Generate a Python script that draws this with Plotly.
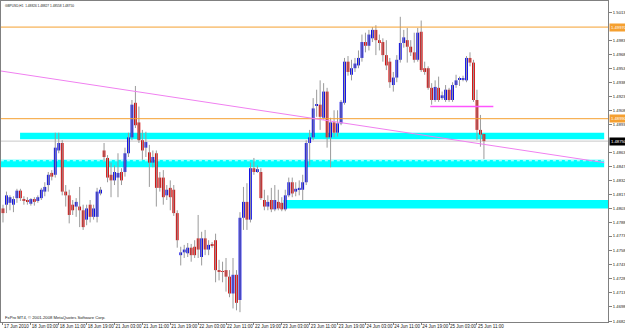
import plotly.graph_objects as go

# ---- data: GBPUSD H1 bars (17 Jun 2010 19:00 .. 25 Jun 2010 13:00) ----
opens = [
    1.4803, 1.4807, 1.4809, 1.4807, 1.4814, 1.4822, 1.4813, 1.4812, 1.4808, 1.4813,
    1.4811, 1.4814, 1.4821, 1.4828, 1.4841, 1.4839, 1.4865, 1.4873, 1.4821, 1.4817,
    1.4807, 1.4805, 1.4805, 1.4801, 1.4791, 1.4807, 1.4794, 1.4794, 1.4819, 1.4865,
    1.4857, 1.4839, 1.4833, 1.4836, 1.4842, 1.4842, 1.4862, 1.4879, 1.4916, 1.4895,
    1.4876, 1.4868, 1.4863, 1.4852, 1.4862, 1.4836, 1.4836, 1.4817, 1.4825, 1.4823,
    1.4798, 1.4753, 1.4756, 1.4755, 1.4761, 1.4762, 1.4771, 1.4751, 1.4771, 1.4759,
    1.4764, 1.4769, 1.4737, 1.4736, 1.4737, 1.4730, 1.4712, 1.4732, 1.4705, 1.4793,
    1.4810, 1.4791, 1.4846, 1.4843, 1.4842, 1.4812, 1.4805, 1.4812, 1.4802, 1.4810,
    1.4809, 1.4802, 1.4817, 1.4831, 1.4821, 1.4823, 1.4823, 1.4831, 1.4873, 1.4879,
    1.4913, 1.4914, 1.4900, 1.4928, 1.4879, 1.4895, 1.4884, 1.4894, 1.4916, 1.4960,
    1.4946, 1.4953, 1.4956, 1.4964, 1.4981, 1.4977, 1.4985, 1.4994, 1.4983, 1.4981,
    1.4967, 1.4960, 1.4935, 1.4943, 1.4962, 1.4980, 1.4983, 1.4976, 1.4970, 1.4962,
    1.4992, 1.4953, 1.4953, 1.4932, 1.4919, 1.4932, 1.4921, 1.4919, 1.4930, 1.4919,
    1.4935, 1.4941, 1.4941, 1.4940, 1.4964, 1.4959, 1.4919, 1.4887, 1.48826]
highs = [
    1.4807, 1.4821, 1.4817, 1.4816, 1.4824, 1.4824, 1.4816, 1.4815, 1.4814, 1.4815,
    1.4817, 1.4825, 1.4831, 1.4842, 1.4844, 1.4884, 1.4884, 1.4876, 1.4828, 1.4823,
    1.4812, 1.4814, 1.4826, 1.4807, 1.4807, 1.4812, 1.4807, 1.4825, 1.4826, 1.4873,
    1.4860, 1.4852, 1.4849, 1.4862, 1.4846, 1.4868, 1.4884, 1.4919, 1.4934, 1.4912,
    1.4887, 1.4885, 1.4871, 1.4865, 1.4865, 1.4842, 1.4844, 1.4828, 1.4833, 1.4828,
    1.4801, 1.4762, 1.4764, 1.4766, 1.4765, 1.4769, 1.4796, 1.4778, 1.4780, 1.4769,
    1.4767, 1.4776, 1.4748, 1.4746, 1.4750, 1.4737, 1.4750, 1.4737, 1.4799, 1.4826,
    1.4830, 1.4852, 1.4857, 1.4849, 1.4846, 1.4823, 1.4817, 1.4825, 1.4828, 1.4823,
    1.4815, 1.4823, 1.4836, 1.4836, 1.4831, 1.4833, 1.4839, 1.4876, 1.4887, 1.4921,
    1.4930, 1.4940, 1.4937, 1.4932, 1.4900, 1.4908, 1.4908, 1.4919, 1.4964, 1.4966,
    1.4962, 1.4964, 1.4972, 1.4989, 1.4991, 1.4994, 1.4997, 1.4999, 1.4989, 1.4985,
    1.4983, 1.4964, 1.4949, 1.4967, 1.5008, 1.4994, 1.4996, 1.4983, 1.4991, 1.4996,
    1.5004, 1.4960, 1.4955, 1.4937, 1.4940, 1.4944, 1.4928, 1.4935, 1.4932, 1.4938,
    1.4946, 1.4944, 1.4945, 1.4966, 1.4970, 1.4962, 1.4930, 1.4903, 1.48827]
lows = [
    1.4788, 1.4798, 1.4801, 1.4799, 1.4809, 1.4811, 1.4807, 1.4807, 1.4806, 1.4806,
    1.4809, 1.4812, 1.4816, 1.4821, 1.4833, 1.4836, 1.4862, 1.4817, 1.4805, 1.4787,
    1.4796, 1.4794, 1.4783, 1.4780, 1.4785, 1.4788, 1.4791, 1.4788, 1.4817, 1.4853,
    1.4831, 1.4815, 1.4828, 1.4815, 1.4828, 1.4837, 1.4858, 1.4876, 1.4889, 1.4873,
    1.4855, 1.4858, 1.4826, 1.4847, 1.4805, 1.4821, 1.4807, 1.4812, 1.4801, 1.4795,
    1.4761, 1.4742, 1.4750, 1.4751, 1.4746, 1.4750, 1.4750, 1.4742, 1.4753, 1.4753,
    1.4761, 1.4724, 1.4726, 1.4724, 1.4714, 1.4708, 1.4696, 1.4694, 1.4692, 1.4780,
    1.4780, 1.4788, 1.4839, 1.4841, 1.4812, 1.4801, 1.4801, 1.4799, 1.4800, 1.4801,
    1.4800, 1.4800, 1.4815, 1.4815, 1.4816, 1.4817, 1.4812, 1.4828, 1.4849, 1.4876,
    1.4901, 1.4887, 1.4898, 1.4868, 1.4847, 1.4879, 1.4880, 1.4892, 1.4914, 1.4945,
    1.4940, 1.4949, 1.4953, 1.4960, 1.4970, 1.4972, 1.4981, 1.4967, 1.4972, 1.4960,
    1.4951, 1.4932, 1.4928, 1.4938, 1.4959, 1.4975, 1.4959, 1.4966, 1.4959, 1.4960,
    1.4949, 1.4946, 1.4930, 1.4914, 1.4917, 1.4917, 1.4919, 1.4917, 1.4917, 1.4917,
    1.4932, 1.4934, 1.4939, 1.4938, 1.4955, 1.4917, 1.4876, 1.4869, 1.48558]
closes = [
    1.4798, 1.4817, 1.4815, 1.4813, 1.4822, 1.4814, 1.4811, 1.4810, 1.4813, 1.4810,
    1.4815, 1.4823, 1.4826, 1.4839, 1.4837, 1.4868, 1.4873, 1.4821, 1.4817, 1.4796,
    1.4801, 1.4810, 1.4801, 1.4783, 1.4803, 1.4794, 1.4803, 1.4821, 1.4823, 1.4858,
    1.4836, 1.4833, 1.4842, 1.4841, 1.4833, 1.4862, 1.4879, 1.4914, 1.4892, 1.4876,
    1.4865, 1.4874, 1.4852, 1.4858, 1.4825, 1.4825, 1.4815, 1.4823, 1.4815, 1.4798,
    1.4769, 1.4756, 1.4759, 1.4761, 1.4753, 1.4753, 1.4759, 1.4771, 1.4759, 1.4764,
    1.4763, 1.4737, 1.4735, 1.4735, 1.4730, 1.4712, 1.4732, 1.4702, 1.4793, 1.4810,
    1.4791, 1.4846, 1.4842, 1.4845, 1.4814, 1.4805, 1.4810, 1.4802, 1.4812, 1.4803,
    1.4802, 1.4817, 1.4831, 1.4819, 1.4824, 1.4825, 1.4831, 1.4873, 1.4879, 1.4910,
    1.4914, 1.4901, 1.4928, 1.4879, 1.4895, 1.4884, 1.4894, 1.4917, 1.4960, 1.4949,
    1.4953, 1.4958, 1.4964, 1.4981, 1.4977, 1.4989, 1.4994, 1.4983, 1.4981, 1.4967,
    1.4956, 1.4938, 1.4943, 1.4962, 1.4980, 1.4986, 1.4976, 1.4970, 1.4962, 1.4991,
    1.4951, 1.4949, 1.4932, 1.4919, 1.4933, 1.4919, 1.4924, 1.4930, 1.4919, 1.4935,
    1.4940, 1.4942, 1.4941, 1.4964, 1.4959, 1.4919, 1.4887, 1.4882, 1.48750]

time_tick_bars = [0, 8, 16, 24, 32, 40, 48, 56, 64, 72, 80, 88, 96, 104, 112, 120, 128, 136]
time_tick_labels = ["17 Jun 2010", "18 Jun 03:00", "18 Jun 11:00", "18 Jun 19:00",
                    "21 Jun 03:00", "21 Jun 11:00", "21 Jun 19:00", "22 Jun 03:00",
                    "22 Jun 11:00", "22 Jun 19:00", "23 Jun 03:00", "23 Jun 11:00",
                    "23 Jun 19:00", "24 Jun 03:00", "24 Jun 11:00", "24 Jun 19:00",
                    "25 Jun 03:00", "25 Jun 11:00"]
price_ticks = [1.46825, 1.46980, 1.47130, 1.47280, 1.47430, 1.47585, 1.47735, 1.47880,
               1.48030, 1.48179, 1.48329, 1.48479, 1.48630, 1.48930, 1.49080,
               1.49230, 1.49380, 1.49530, 1.49680, 1.49830, 1.50130]

# chart objects (levels)
orange_levels = [1.49970, 1.48990]
zone_low = [1.4877, 1.4847, 1.4803]
zone_high = [1.4884, 1.4855, 1.4812]
zone_from = [4.9, -0.6, 80.5]
zone_to = [172.5, 172.5, 173.7]
dotted_level = 1.4854
trend_x = [-0.6, 172.5]
trend_y = [1.4950, 1.4852]
flat_x = [122.6, 140.7]
flat_level = 1.4912
bid = 1.48750
title_text = "GBPUSD,H1  1.48826 1.48827 1.48558 1.48750"
copyright_text = "FxPro MT4, \u00a9 2001-2008 MetaQuotes Software Corp."

n = len(closes)
idx = list(range(n))
BULL = "#0000e6"
BEAR = "#d40000"
WICK = "#9a9a9a"

bases = [min(o, c) for o, c in zip(opens, closes)]
heights = [max(abs(c - o), 0.00008) for o, c in zip(opens, closes)]
colors = [BULL if c >= o else BEAR for o, c in zip(opens, closes)]

wx, wy = [], []
for i, h, l in zip(idx, highs, lows):
    wx += [i, i, None]
    wy += [l, h, None]

fig = go.Figure()
fig.add_trace(go.Scatter(x=wx, y=wy, mode="lines", line=dict(color=WICK, width=1),
                         hoverinfo="skip"))
fig.add_trace(go.Bar(x=idx, y=heights, base=bases, marker_color=colors,
                     marker_line_width=0, width=0.8))

# zones
for lo, hi, x0, x1 in zip(zone_low, zone_high, zone_from, zone_to):
    fig.add_shape(type="rect", xref="x", yref="y", x0=x0, x1=x1, y0=lo, y1=hi,
                  fillcolor="#00ffff", line_width=0, layer="below")
fig.add_shape(type="line", xref="x", yref="y", x0=zone_from[1], x1=zone_to[1],
              y0=dotted_level, y1=dotted_level,
              line=dict(color="#d8ffff", width=1, dash="dot"), layer="below")
# orange levels
for lv in orange_levels:
    fig.add_shape(type="line", xref="paper", yref="y", x0=0, x1=1, y0=lv, y1=lv,
                  line=dict(color="#f5a030", width=1))
# bid line
fig.add_shape(type="line", xref="paper", yref="y", x0=0, x1=1, y0=bid, y1=bid,
              line=dict(color="#c8c8c8", width=1), layer="below")
# trend line
fig.add_shape(type="line", xref="x", yref="y", x0=trend_x[0], x1=trend_x[1],
              y0=trend_y[0], y1=trend_y[1], line=dict(color="#f080f0", width=1))
# flat magenta line
fig.add_shape(type="line", xref="x", yref="y", x0=flat_x[0], x1=flat_x[1],
              y0=flat_level, y1=flat_level, line=dict(color="#ff55ff", width=1.5))

# axis price labels for objects
for lv in orange_levels:
    fig.add_annotation(xref="paper", yref="y", x=1, y=lv, xanchor="left", yanchor="middle",
                       text=f"{lv:.5f}", showarrow=False, xshift=1,
                       bgcolor="#f5a030", font=dict(size=4.2, color="white"), borderpad=1)
fig.add_annotation(xref="paper", yref="y", x=1, y=bid, xanchor="left", yanchor="middle",
                   text=f"{bid:.5f}", showarrow=False, xshift=1,
                   bgcolor="black", font=dict(size=4.2, color="white"), borderpad=1)

fig.add_annotation(xref="paper", yref="paper", x=0, y=0.984, xanchor="left", yanchor="middle",
                   text=title_text, showarrow=False, xshift=2,
                   font=dict(size=3.2, color="#202020"))
fig.add_annotation(xref="paper", yref="paper", x=0, y=0.0125, xanchor="left", yanchor="middle",
                   text=copyright_text, showarrow=False, xshift=2,
                   font=dict(size=4.2, color="#202020"))

fig.update_layout(
    width=625, height=330,
    margin=dict(l=1, r=17, t=1, b=8, pad=0, autoexpand=False),
    paper_bgcolor="white", plot_bgcolor="white",
    showlegend=False, barmode="overlay",
    font=dict(family="Liberation Sans", size=4.2, color="#202020"),
    xaxis=dict(range=[-0.57, 173.6], tickmode="array", tickvals=time_tick_bars,
               ticktext=time_tick_labels, ticklabelposition="outside right",
               tickangle=0, automargin=False,
               ticks="outside", ticklen=2, tickcolor="#808080",
               showline=True, linecolor="#808080", linewidth=1, mirror=True,
               showgrid=False, zeroline=False, tickfont=dict(size=4.5)),
    yaxis=dict(side="right", range=[1.46815, 1.50249], tickmode="array",
               tickvals=price_ticks, ticktext=[f"{v:.5f}" for v in price_ticks],
               automargin=False,
               ticks="outside", ticklen=3, tickcolor="#808080",
               showline=True, linecolor="#808080", linewidth=1, mirror=True,
               showgrid=False, zeroline=False, tickfont=dict(size=4.2)),
)

fig.write_html("out.html")
